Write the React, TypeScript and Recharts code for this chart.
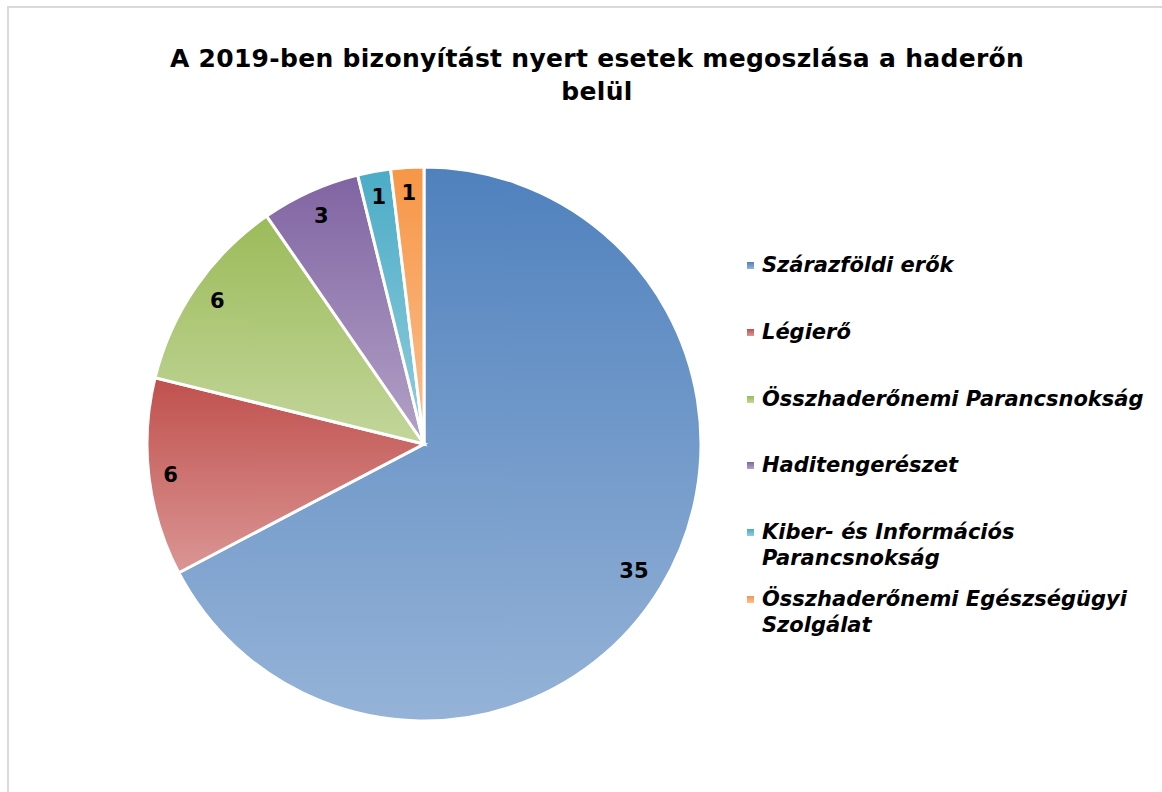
import React from "react";
import { PieChart, Pie, Cell, Legend } from "recharts";

const CATEGORIES = [
  "Szárazföldi erők",
  "Légierő",
  "Összhaderőnemi Parancsnokság",
  "Haditengerészet",
  "Kiber- és Információs Parancsnokság",
  "Összhaderőnemi Egészségügyi Szolgálat",
];
const VALUES = [35, 6, 6, 3, 1, 1];
const TOP_COLORS = ["#4F81BD", "#C0504D", "#9BBB59", "#8064A2", "#4BACC6", "#F79646"];
const BOTTOM_COLORS = ["#95B3D7", "#DA9694", "#C3D69B", "#B3A2C7", "#93CDDD", "#FAC090"];
const TITLE_LINES = ["A 2019-ben bizonyítást nyert esetek megoszlása a haderőn", "belül"];

const data = CATEGORIES.map((name, i) => ({ name, value: VALUES[i] }));

const FONT = "Verdana, 'DejaVu Sans', sans-serif";
const RAD = Math.PI / 180;

// label sits inside the slice, its box kept a fixed gap from the rim
const renderLabel = (props: any) => {
  const { cx, cy, midAngle, outerRadius, value } = props;
  const cos = Math.cos(-midAngle * RAD);
  const sin = Math.sin(-midAngle * RAD);
  const hw = String(value).length * 7.3;
  const hh = 12;
  const r = outerRadius - 13 - (Math.abs(cos) * hw + Math.abs(sin) * hh);
  const x = cx + r * cos;
  const y = cy + r * sin;
  return (
    <text
      x={x}
      y={y}
      textAnchor="middle"
      dominantBaseline="central"
      fill="#000"
      fontFamily={FONT}
      fontWeight="bold"
      fontSize={21}
    >
      {value}
    </text>
  );
};

const renderLegend = () => (
  <div style={{ position: "relative", width: 410 }}>
    {CATEGORIES.map((name, i) => (
      <div
        key={name}
        style={{
          position: "absolute",
          left: 0,
          top: i * 66.8,
          width: 410,
          display: "flex",
          alignItems: "flex-start",
        }}
      >
        <span
          style={{
            display: "inline-block",
            width: 7,
            height: 7,
            marginTop: 10,
            marginRight: 8,
            flexShrink: 0,
            background: `linear-gradient(${TOP_COLORS[i]}, ${BOTTOM_COLORS[i]})`,
          }}
        />
        <span
          style={{
            fontFamily: FONT,
            fontWeight: "bold",
            fontStyle: "italic",
            fontSize: 21,
            lineHeight: "26px",
            color: "#000",
            width: 398,
          }}
        >
          {name}
        </span>
      </div>
    ))}
  </div>
);

export default function App() {
  return (
    <div style={{ position: "absolute", left: 0, top: 0, width: 1162, height: 792, background: "#fff", overflow: "hidden" }}>
      <div
        style={{
          position: "absolute",
          left: 7,
          top: 6,
          width: 1200,
          height: 900,
          borderLeft: "2px solid #D9D9D9",
          borderTop: "2px solid #D9D9D9",
        }}
      />
      <div
        style={{
          position: "absolute",
          left: 97,
          top: 42,
          width: 1000,
          textAlign: "center",
          fontFamily: FONT,
          fontWeight: "bold",
          fontSize: 25,
          letterSpacing: 0.3,
          lineHeight: "33px",
          color: "#000",
        }}
      >
        {TITLE_LINES.map((t) => (
          <div key={t}>{t}</div>
        ))}
      </div>
      <div style={{ position: "absolute", left: 0, top: 0 }}>
        <PieChart width={1162} height={792} margin={{ top: 0, right: 0, bottom: 0, left: 0 }}>
          <defs>
            {TOP_COLORS.map((c, i) => (
              <linearGradient key={c} id={`grad${i}`} x1="0" y1="0" x2="0" y2="1">
                <stop offset="0%" stopColor={c} />
                <stop offset="100%" stopColor={BOTTOM_COLORS[i]} />
              </linearGradient>
            ))}
          </defs>
          <Pie
            data={data}
            dataKey="value"
            nameKey="name"
            cx={424}
            cy={444}
            outerRadius={277}
            startAngle={90}
            endAngle={-270}
            stroke="#fff"
            strokeWidth={3}
            label={renderLabel}
            labelLine={false}
            isAnimationActive={false}
          >
            {data.map((d, i) => (
              <Cell key={d.name} fill={`url(#grad${i})`} />
            ))}
          </Pie>
          <Legend
            content={renderLegend}
            wrapperStyle={{ position: "absolute", left: 747, top: 252, width: 410, height: 420 }}
          />
        </PieChart>
      </div>
    </div>
  );
}
